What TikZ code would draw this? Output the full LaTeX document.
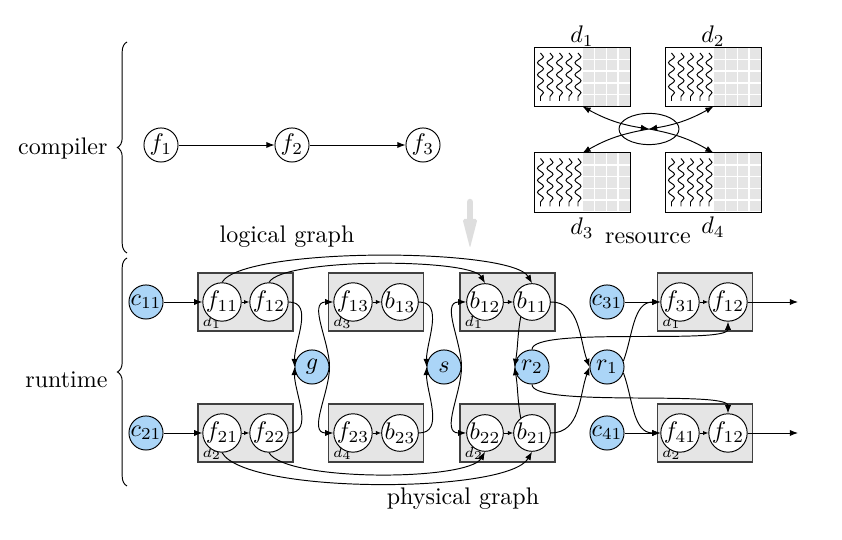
\documentclass[tikz,border=0pt]{standalone}
\usetikzlibrary{arrows.meta,decorations.pathreplacing,decorations.pathmorphing,shapes.geometric}
\definecolor{nodeblue}{HTML}{ABD5F7}
\newcommand{\resgrid}[1]{%
 \begin{scope}[shift={(#1.center)}]
  \fill[black!10] (0,-29) rectangle (47.5,29);
  \foreach \i in {1,2,3} \draw[white,line width=0.6pt] ({\i*11.875},-29) -- ({\i*11.875},29);
  \foreach \j in {1,...,4} \draw[white,line width=0.6pt] (0,{-29+\j*11.6}) -- (47.5,{-29+\j*11.6});
  \foreach \k in {-42,-32.5,-23,-13.5,-4.5} \draw[decorate,decoration={snake,amplitude=1.25pt,segment length=5pt}] (\k,24) -- (\k,-24);
 \end{scope}
 \draw (#1.south west) rectangle (#1.north east);}
\begin{document}
\begin{tikzpicture}[x=0.41667pt,y=0.41667pt,
  nd/.style={circle,draw,fill=white,minimum size=14.2pt,inner sep=0pt},
  bl/.style={nd,fill=nodeblue},
  grp/.style={draw=black!75,fill=black!10,line width=0.6pt,minimum width=39.6pt,minimum height=24.2pt,inner sep=0pt},
  rbx/.style={minimum width=39.6pt,minimum height=24.2pt,inner sep=0pt},
  arr/.style={-{Latex[length=3.4pt,width=2.6pt]}},
  sarr/.style={-{Latex[length=2.2pt,width=1.8pt]}},
  dbl/.style={{Latex[length=3.4pt,width=2.6pt]}-{Latex[length=3.4pt,width=2.6pt]}},
  dl/.style={font=\fontsize{6}{7}\selectfont,inner sep=1pt,anchor=south west}
]
\useasboundingbox (0,0) rectangle (842,540);

% ---------- braces and side labels ----------
\draw[decorate,decoration={brace,amplitude=4pt}] (127,287) -- (127,498);
\draw[decorate,decoration={brace,amplitude=4pt}] (127,54) -- (127,282);
\node[anchor=east] (lcomp) at (116,391) {compiler};
\node[anchor=east] (lrun) at (116,160) {runtime};

% ---------- compiler ----------
\node[nd] (f1) at (161,395) {$f_1$};
\node[nd] (f2) at (292,395) {$f_2$};
\node[nd] (f3) at (423,395) {$f_3$};
\draw[arr] (f1) -- (f2);
\draw[arr] (f2) -- (f3);

% ---------- resource ----------
\node[rbx] (R1) at (582.5,463) {};
\node[rbx] (R2) at (713.5,463) {};
\node[rbx] (R3) at (582.5,357.5) {};
\node[rbx] (R4) at (713.5,357.5) {};
\resgrid{R1}\resgrid{R2}\resgrid{R3}\resgrid{R4}
\node (ld1) at (582,504) {$d_1$};
\node (ld2) at (713,504) {$d_2$};
\node (ld3) at (582,312) {$d_3$};
\node (ld4) at (713,313) {$d_4$};
\node (lres) at (648,302) {resource};
\node[draw,ellipse,minimum width=25pt,minimum height=13pt,inner sep=0pt] (hub) at (649,411) {};
\draw[dbl] (R1.south) to[bend right=10] (hub.center);
\draw[dbl] (R2.south) to[bend left=10] (hub.center);
\draw[arr] (hub.center) to[bend right=10] (R3.north);
\draw[arr] (hub.center) to[bend left=10] (R4.north);

% ---------- gray arrow ----------
\draw[black!13,line width=2.7pt,line cap=round] (470,338) -- (470,316);
\fill[black!13,rounded corners=0.8pt] (462.5,321) -- (477.5,321) -- (470,292) -- cycle;

\node (llog) at (287,303) {logical graph};
\node (lphy) at (463,41) {physical graph};

% ---------- runtime boxes ----------
\node[grp] (gA1) at (245.5,238) {};
\node[grp] (gA2) at (245.5,107) {};
\node[grp] (gB1) at (376,238) {};
\node[grp] (gB2) at (376,107) {};
\node[grp] (gC1) at (507.5,238) {};
\node[grp] (gC2) at (507.5,107) {};
\node[grp] (gD1) at (705,238) {};
\node[grp] (gD2) at (705,107) {};
\node[dl] (tA1) at ([xshift=1pt]gA1.south west) {$d_1$};
\node[dl] (tA2) at ([xshift=1pt]gA2.south west) {$d_2$};
\node[dl] (tB1) at ([xshift=1pt]gB1.south west) {$d_3$};
\node[dl] (tB2) at ([xshift=1pt]gB2.south west) {$d_4$};
\node[dl] (tC1) at ([xshift=1pt]gC1.south west) {$d_1$};
\node[dl] (tC2) at ([xshift=1pt]gC2.south west) {$d_2$};
\node[dl] (tD1) at ([xshift=1pt]gD1.south west) {$d_1$};
\node[dl] (tD2) at ([xshift=1pt]gD2.south west) {$d_2$};

% ---------- runtime nodes ----------
\node[bl] (c11) at (146,238) {$c_{11}$};
\node[bl] (c21) at (146,107) {$c_{21}$};
\node[nd] (f11) at (222,238) {$f_{11}$};
\node[nd] (f12) at (269,238) {$f_{12}$};
\node[nd] (f21) at (222,107) {$f_{21}$};
\node[nd] (f22) at (269,107) {$f_{22}$};
\node[bl] (g) at (312,173) {$g$};
\node[nd] (f13) at (353,238) {$f_{13}$};
\node[nd] (b13) at (400,238) {$b_{13}$};
\node[nd] (f23) at (353,107) {$f_{23}$};
\node[nd] (b23) at (400,107) {$b_{23}$};
\node[bl] (s) at (444,173) {$s$};
\node[nd] (b12) at (485,238) {$b_{12}$};
\node[nd] (b11) at (532,238) {$b_{11}$};
\node[nd] (b22) at (485,107) {$b_{22}$};
\node[nd] (b21) at (532,107) {$b_{21}$};
\node[bl] (r2) at (532,173) {$r_2$};
\node[bl] (r1) at (607,173) {$r_1$};
\node[bl] (c31) at (607,238) {$c_{31}$};
\node[bl] (c41) at (607,107) {$c_{41}$};
\node[nd] (f31) at (680,238) {$f_{31}$};
\node[nd] (f12b) at (728,238) {$f_{12}$};
\node[nd] (f41) at (680,107) {$f_{41}$};
\node[nd] (f12c) at (728,107) {$f_{12}$};
\coordinate (o1) at (798,238);
\coordinate (o2) at (798,107);

% ---------- runtime edges ----------
\draw[arr] (c11) -- (f11);
\draw[sarr] (f11) -- (f12);
\draw[arr] (c21) -- (f21);
\draw[sarr] (f21) -- (f22);
\draw[sarr] (f13) -- (b13);
\draw[sarr] (f23) -- (b23);
\draw[sarr] (b12) -- (b11);
\draw[sarr] (b22) -- (b21);
\draw[arr] (c31) -- (f31);
\draw[sarr] (f31) -- (f12b);
\draw[arr] (c41) -- (f41);
\draw[sarr] (f41) -- (f12c);
\draw[arr] (f12b) -- (o1);
\draw[arr] (f12c) -- (o2);

\draw[arr] (f12.east) to[out=0,in=90] (g.west);
\draw[arr] (f22.east) to[out=0,in=-90] (g.west);
\draw[arr] (g.east) to[out=90,in=180] (f13.west);
\draw[arr] (g.east) to[out=-90,in=180] (f23.west);
\draw[arr] (b13.east) to[out=0,in=90] (s.west);
\draw[arr] (b23.east) to[out=0,in=-90] (s.west);
\draw[arr] (s.east) to[out=90,in=180] (b12.west);
\draw[arr] (s.east) to[out=-90,in=180] (b22.west);
\draw[arr] (b11.233) to[out=-100,in=80] (r2.west);
\draw[arr] (b21.127) to[out=100,in=-80] (r2.west);
\draw[arr] (b11.east) to[out=0,in=110] (r1.west);
\draw[arr] (b21.east) to[out=0,in=-110] (r1.west);
\draw[arr] (r1.20) to[out=70,in=180] (f31.west);
\draw[arr] (r1.-20) to[out=-70,in=180] (f41.west);
\draw[arr] (r2.north) to[out=90,in=-90,looseness=0.3] (f12b.south);
\draw[arr] (r2.south) to[out=-90,in=90,looseness=0.3] (f12c.north);

\draw[arr] (f11.north) to[out=60,in=120,looseness=0.34] (b11.north);
\draw[arr] (f12.north) to[out=60,in=120,looseness=0.34] (b12.north);
\draw[arr] (f21.south) to[out=-60,in=-120,looseness=0.4] (b21.south);
\draw[arr] (f22.south) to[out=-60,in=-120,looseness=0.4] (b22.south);
\end{tikzpicture}
\end{document}
